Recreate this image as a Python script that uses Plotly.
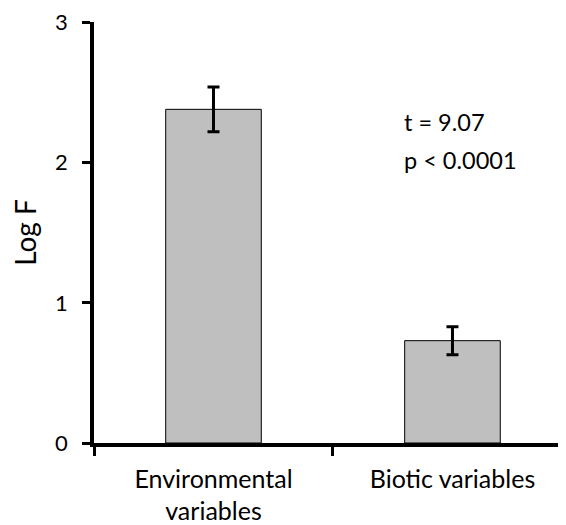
import plotly.graph_objects as go

categories = ["Environmental<br>variables", "Biotic variables"]
values = [2.38, 0.73]
errors = [0.16, 0.10]
y_ticks = [0, 1, 2, 3]
annotation_lines = ["t = 9.07", "p < 0.0001"]

FONT = "Lato"

fig = go.Figure()
fig.add_trace(go.Bar(
    x=categories,
    y=values,
    marker=dict(color="#bfbfbf", line=dict(color="black", width=1)),
    error_y=dict(type="data", array=errors, visible=True, color="black",
                 thickness=3, width=6),
    width=0.4,
))

fig.update_layout(
    width=558, height=517,
    margin=dict(l=86, r=0, t=14, b=82),
    plot_bgcolor="white", paper_bgcolor="white",
    showlegend=False,
    font=dict(family=FONT, size=22, color="black"),
    xaxis=dict(
        range=[-0.5, 1.475],
        showline=True, linecolor="black", linewidth=3.5,
        ticks="outside", tickson="boundaries", ticklen=9, tickwidth=3,
        tickcolor="black", showgrid=False, zeroline=False,
        tickfont=dict(family=FONT, size=25),
        ticklabelstandoff=11,
    ),
    yaxis=dict(
        range=[0, 3.003], tickvals=y_ticks,
        showline=True, linecolor="black", linewidth=3.5,
        ticks="outside", ticklen=8, tickwidth=3, tickcolor="black",
        showgrid=False, zeroline=False,
        tickfont=dict(family=FONT, size=22),
        ticklabelstandoff=10,
        title=dict(text="Log F", font=dict(family=FONT, size=28), standoff=12),
    ),
)

for i, line in enumerate(annotation_lines):
    fig.add_annotation(
        xref="x", yref="y", x=0.79, y=2.29 - i * 0.268,
        text=line, showarrow=False, xanchor="left", yanchor="middle",
        font=dict(family=FONT, size=23.5),
    )

fig.write_html("out.html")
